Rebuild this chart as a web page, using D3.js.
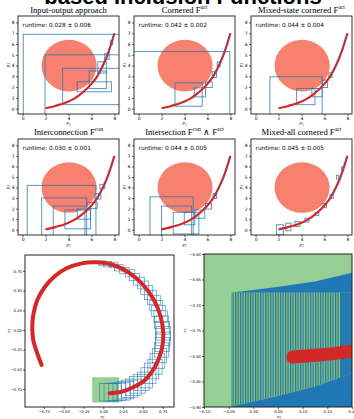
<!DOCTYPE html>
<html>
<head>
<meta charset="utf-8">
<script src="https://cdn.jsdelivr.net/npm/d3@7"></script>
<style>
  body { margin: 0; background: #fff; }
  svg { display: block; }
</style>
</head>
<body>
<svg id="fig" width="354" height="419"></svg>
<script>
// ---- data ----
var panelTitles = [
  ["Input-output approach"],
  ["Cornered F", "act"],
  ["Mixed-state cornered F", "act"],
  ["Interconnection F", "con"],
  ["Intersection F", "con", " \u2227 F", "act"],
  ["Mixed-all cornered F", "act"]
];
var runtimes = ["0.028 \u00b1 0.006", "0.042 \u00b1 0.002", "0.044 \u00b1 0.004",
                "0.030 \u00b1 0.001", "0.044 \u00b1 0.005", "0.045 \u00b1 0.005"];

// trajectory in the small panels
var curveP1 = [2, 2.5, 3, 3.5, 4, 4.5, 5, 5.5, 6, 6.5, 7, 7.5, 8];
var curveP2 = [0.03, 0.15, 0.3, 0.45, 0.65, 0.93, 1.3, 1.75, 2.3, 3.0, 4.0, 5.3, 7.0];
var obstacle = {cx: 4.05, cy: 4.0, r: 2.4};

// boxes [x0, x1, y0, y1]
var boxesIO = [[0.06, 9, -1, 6.9], [1.95, 9, -1, 5.0], [3.49, 9, 0.37, 3.74], [4.76, 7.74, 1.56, 2.49],
               [5.8, 7.3, 1.87, 3.49], [6.55, 7.3, 3.3, 4.35], [7.16, 7.54, 4.58, 5.14], [7.65, 7.85, 5.9, 6.3]];
var boxesCorner = [[-1, 7.95, -1, 5.3], [3.17, 5.54, 0.22, 2.4], [4.85, 5.83, 1.09, 1.93],
                   [5.83, 6.41, 1.96, 2.49], [6.41, 6.79, 2.9, 3.43], [6.85, 7.1, 3.9, 4.35]];
var boxesMixedState = [[1.25, 5.8, -1, 2.96], [3.57, 5.17, 0.37, 1.87], [4.9, 5.8, 1.1, 1.87],
                       [5.8, 6.27, 1.96, 2.65], [6.38, 6.67, 2.9, 3.33]];
var boxesInter = [[0.41, 6.39, -1, 4.2], [1.66, 5.58, -1, 3.02], [2.67, 5.43, -1, 2.24], [3.69, 5.92, 0.09, 1.87],
                  [4.76, 5.92, 1.0, 1.96], [5.62, 6.5, 2.02, 2.59], [6.3, 6.82, 2.9, 3.43], [6.73, 7.16, 3.89, 4.27]];
var boxesInters = [[0.99, 4.76, -1, 3.12], [2.0, 4.62, -1, 2.24], [3.02, 5.25, -0.4, 1.65], [3.98, 4.9, 0.47, 1.65],
                   [4.9, 5.77, 1.09, 1.87], [5.83, 6.35, 1.96, 2.49], [6.5, 6.79, 2.96, 3.43]];
var boxesMixedAll = [[1.83, 2.41, -0.47, 0.47], [2.62, 3.08, -0.1, 0.62], [3.42, 3.86, 0.31, 0.78],
                     [4.29, 4.64, 0.72, 1.09], [5.17, 5.51, 1.34, 1.65], [5.89, 6.17, 2.09, 2.49],
                     [6.47, 6.76, 2.96, 3.33], [7.05, 7.25, 4.8, 5.17], [7.5, 7.65, 5.6, 5.95]];
var panelBoxes = [boxesIO, boxesCorner, boxesMixedState, boxesInter, boxesInters, boxesMixedAll];

var smallXTicks = [0, 2, 4, 6, 8];
var smallYTicks = [0, 1, 2, 3, 4, 5, 6, 7, 8];

// spiral (bottom panels)
var spiralX = [-0.777, -0.832, -0.883, -0.895, -0.883, -0.832, -0.735, -0.609, -0.462, -0.272, -0.083,
               0.126, 0.337, 0.504, 0.639, 0.724, 0.757, 0.736, 0.652, 0.526, 0.378, 0.232, 0.08];
var spiralY = [-0.445, -0.296, -0.127, 0.021, 0.19, 0.381, 0.55, 0.686, 0.784, 0.847, 0.86,
               0.826, 0.72, 0.572, 0.381, 0.169, -0.042, -0.254, -0.466, -0.635, -0.728, -0.784, -0.802];
var tubeX = [0.065, 0.12, 0.175, 0.232, 0.28, 0.33, 0.378, 0.43, 0.478, 0.526, 0.57, 0.61, 0.652, 0.68, 0.708,
             0.736, 0.745, 0.752, 0.757, 0.746, 0.735, 0.724, 0.696, 0.667, 0.639, 0.594, 0.549, 0.504, 0.448,
             0.392, 0.337, 0.267, 0.196, 0.126, 0.056, -0.013];
var tubeY = [-0.79, -0.79, -0.787, -0.78, -0.765, -0.747, -0.728, -0.697, -0.667, -0.635, -0.58, -0.52, -0.466,
             -0.395, -0.325, -0.254, -0.183, -0.112, -0.042, 0.028, 0.099, 0.169, 0.24, 0.31, 0.381, 0.445,
             0.508, 0.572, 0.621, 0.671, 0.72, 0.755, 0.79, 0.826, 0.837, 0.849];
var tubeHx = [0.11, 0.11, 0.11, 0.11, 0.105, 0.105, 0.1, 0.1, 0.1, 0.095, 0.095, 0.09, 0.09, 0.09, 0.09, 0.09,
              0.09, 0.09, 0.09, 0.09, 0.09, 0.085, 0.085, 0.08, 0.08, 0.075, 0.075, 0.07, 0.07, 0.065, 0.06,
              0.06, 0.055, 0.05, 0.05, 0.045];
var tubeHy = [0.112, 0.112, 0.112, 0.11, 0.11, 0.11, 0.105, 0.105, 0.1, 0.1, 0.1, 0.1, 0.095, 0.095, 0.09, 0.09,
              0.09, 0.085, 0.085, 0.08, 0.08, 0.075, 0.07, 0.065, 0.06, 0.06, 0.055, 0.05, 0.05, 0.045, 0.045,
              0.04, 0.04, 0.035, 0.035, 0.03];
var initBox = [-0.14, 0.2, -0.92, -0.6];
var spiralTicks = [-0.75, -0.5, -0.25, 0, 0.25, 0.5, 0.75];

// zoomed view near the initial set
var zoomXTicks = [-0.1, -0.05, 0, 0.05, 0.1, 0.15, 0.2];
var zoomYTicks = [-0.9, -0.85, -0.8, -0.75, -0.7, -0.65, -0.6];
var edgeX = [-0.045, 0.044, 0.125, 0.2];
var upperEdgeY = [-0.676, -0.665, -0.654, -0.637];
var lowerEdgeY = [-0.899, -0.88, -0.86, -0.834];
var bandTop = -0.676;
var stripeEnd = 0.176;

// ---- drawing ----
var svg = d3.select("#fig");
var defs = svg.append("defs");
var BLUE = "#1f77b4", RED = "#d62728";
var sans = "DejaVu Sans", serif = "Liberation Serif";

var pat = defs.append("pattern").attr("id", "stripes").attr("patternUnits", "userSpaceOnUse")
  .attr("width", 2.5).attr("height", 4);
pat.append("rect").attr("width", 2.5).attr("height", 4).attr("fill", "#8fc66c");
pat.append("rect").attr("width", 1.25).attr("height", 4).attr("fill", BLUE);

// cut-off figure title
svg.append("text").attr("x", 183).attr("y", 4).attr("text-anchor", "middle")
  .attr("font-family", "Liberation Sans").attr("font-weight", "bold").attr("font-size", 22)
  .text("based Inclusion Functions");

function clip(id, x0, y0, w, h) {
  defs.append("clipPath").attr("id", id).append("rect")
    .attr("x", x0).attr("y", y0).attr("width", w).attr("height", h);
  return "url(#" + id + ")";
}

function styleAxis(g, fs) {
  g.select(".domain").remove();
  g.attr("font-size", fs).attr("font-family", sans);
  g.selectAll("line").attr("stroke-width", 0.6);
}

function subLabel(g, x, y, base, sub, rotate, fs) {
  var t = g.append("text").attr("text-anchor", "middle").attr("font-family", serif)
    .attr("font-style", "italic").attr("font-size", fs);
  if (rotate) t.attr("transform", "translate(" + x + "," + y + ") rotate(-90)");
  else t.attr("x", x).attr("y", y);
  t.append("tspan").text(base);
  t.append("tspan").attr("font-size", fs * 0.7).attr("font-style", "normal").attr("dy", fs * 0.25).text(sub);
}

var lefts = [18, 134, 251];
var rows = [{top: 16, h: 98, title: 12.5, xl: 124.3}, {top: 139, h: 96, title: 134.5, xl: 245.5}];
var curvePts = curveP1.map(function (p, i) { return [p, curveP2[i]]; });

panelBoxes.forEach(function (boxes, i) {
  var row = rows[Math.floor(i / 3)], left = lefts[i % 3], top = row.top, h = row.h, w = 101;
  var x = d3.scaleLinear().domain([-0.4, 8.4]).range([left, left + w]);
  var y = d3.scaleLinear().domain([-0.5, 8.6]).range([top + h, top]);
  var g = svg.append("g");
  var plot = g.append("g").attr("clip-path", clip("c" + i, left, top, w, h));

  plot.append("ellipse").attr("cx", x(obstacle.cx)).attr("cy", y(obstacle.cy))
    .attr("rx", x(obstacle.cx + obstacle.r) - x(obstacle.cx))
    .attr("ry", y(obstacle.cy) - y(obstacle.cy + obstacle.r))
    .attr("fill", "#f7806f");

  plot.selectAll("rect.box").data(boxes).join("rect").attr("class", "box")
    .attr("x", function (d) { return x(d[0]); }).attr("y", function (d) { return y(d[3]); })
    .attr("width", function (d) { return x(d[1]) - x(d[0]); })
    .attr("height", function (d) { return y(d[2]) - y(d[3]); })
    .attr("fill", "none").attr("stroke", BLUE).attr("stroke-width", 1).attr("opacity", 0.75);

  var line = d3.line().x(function (d) { return x(d[0]); }).y(function (d) { return y(d[1]); })
    .curve(d3.curveMonotoneX);
  plot.append("path").attr("d", line(curvePts)).attr("fill", "none")
    .attr("stroke", RED).attr("stroke-width", 2.2);
  plot.append("path").attr("d", line(curvePts.filter(function (d) { return d[0] >= 6.5; })))
    .attr("fill", "none").attr("stroke", BLUE).attr("stroke-width", 1.2)
    .attr("stroke-dasharray", "2,2.5").attr("opacity", 0.8);

  g.append("text").attr("x", left + 4.5).attr("y", top + 10.5).attr("font-family", sans)
    .attr("font-size", 5.8).text("runtime: " + runtimes[i]);

  g.append("rect").attr("x", left).attr("y", top).attr("width", w).attr("height", h)
    .attr("fill", "none").attr("stroke", "#000").attr("stroke-width", 0.8);

  var ax = g.append("g").attr("transform", "translate(0," + (top + h) + ")")
    .call(d3.axisBottom(x).tickValues(smallXTicks).tickSize(2).tickPadding(1));
  styleAxis(ax, 4.5);
  var ay = g.append("g").attr("transform", "translate(" + left + ",0)")
    .call(d3.axisLeft(y).tickValues(smallYTicks).tickSize(2).tickPadding(1.5));
  styleAxis(ay, 4.5);

  var tt = g.append("text").attr("x", left + w / 2).attr("y", row.title).attr("text-anchor", "middle")
    .attr("font-family", serif).attr("font-size", 8.6);
  panelTitles[i].forEach(function (part, k) {
    var sp = tt.append("tspan").text(part);
    if (k % 2 === 1) sp.attr("font-size", 5.8).attr("dy", -3.1);
    else if (k > 0) sp.attr("dy", 3.1);
  });

  subLabel(g, left + w / 2, row.xl, "p", "1", false, 5);
  subLabel(g, left - 9.5, top + h / 2, "p", "2", true, 5);
});

// ---- bottom left: spiral with reachable boxes ----
(function () {
  var L = 25, T = 255, W = 149, H = 152;
  var x = d3.scaleLinear().domain([-0.987, 0.892]).range([L, L + W]);
  var y = d3.scaleLinear().domain([-0.978, 0.953]).range([T + H, T]);
  var g = svg.append("g");
  var plot = g.append("g").attr("clip-path", clip("cs", L, T, W, H));

  plot.append("rect").attr("x", x(initBox[0])).attr("y", y(initBox[3]))
    .attr("width", x(initBox[1]) - x(initBox[0])).attr("height", y(initBox[2]) - y(initBox[3]))
    .attr("fill", "#2ca02c").attr("opacity", 0.5);

  var tube = tubeX.map(function (cx, i) { return [cx, tubeY[i], tubeHx[i], tubeHy[i]]; });
  plot.selectAll("rect.tb").data(tube).join("rect").attr("class", "tb")
    .attr("x", function (d) { return x(d[0] - d[2]); }).attr("y", function (d) { return y(d[1] + d[3]); })
    .attr("width", function (d) { return x(d[0] + d[2]) - x(d[0] - d[2]); })
    .attr("height", function (d) { return y(d[1] - d[3]) - y(d[1] + d[3]); })
    .attr("fill", "none").attr("stroke", BLUE).attr("stroke-width", 0.7).attr("opacity", 0.8);

  var pts = spiralX.map(function (v, i) { return [v, spiralY[i]]; });
  var line = d3.line().x(function (d) { return x(d[0]); }).y(function (d) { return y(d[1]); })
    .curve(d3.curveCatmullRom);
  plot.append("path").attr("d", line(pts)).attr("fill", "none").attr("stroke", RED)
    .attr("stroke-width", 4).attr("stroke-linecap", "round");

  g.append("rect").attr("x", L).attr("y", T).attr("width", W).attr("height", H)
    .attr("fill", "none").attr("stroke", "#222").attr("stroke-width", 1);
  var fmt = d3.format(".2f");
  var ax = g.append("g").attr("transform", "translate(0," + (T + H) + ")")
    .call(d3.axisBottom(x).tickValues(spiralTicks).tickFormat(fmt).tickSize(2).tickPadding(1));
  styleAxis(ax, 3.8);
  var ay = g.append("g").attr("transform", "translate(" + L + ",0)")
    .call(d3.axisLeft(y).tickValues(spiralTicks).tickFormat(fmt).tickSize(2).tickPadding(1));
  styleAxis(ay, 3.8);
  subLabel(g, L + W / 2 + 3, 418, "x", "1", false, 5);
  subLabel(g, 10, T + H / 2, "x", "2", true, 5);
})();

// ---- bottom right: zoom on the initial set ----
(function () {
  var L = 204, T = 254, W = 148, H = 153;
  var x = d3.scaleLinear().domain([-0.1, 0.2]).range([L, L + W]);
  var y = d3.scaleLinear().domain([-0.9, -0.6]).range([T + H, T]);
  var g = svg.append("g");
  var plot = g.append("g").attr("clip-path", clip("cz", L, T, W, H));

  plot.append("rect").attr("x", x(initBox[0])).attr("y", y(initBox[3]))
    .attr("width", x(initBox[1]) - x(initBox[0])).attr("height", y(initBox[2]) - y(initBox[3]))
    .attr("fill", "#2ca02c").attr("opacity", 0.5);

  var n = edgeX.length;
  var upper = edgeX.map(function (v, i) { return [x(v), y(upperEdgeY[i])]; });
  var lower = edgeX.map(function (v, i) { return [x(v), y(lowerEdgeY[i])]; });
  var poly = d3.line().curve(d3.curveLinear);
  // solid band above the horizontal top edge
  plot.append("path").attr("fill", BLUE)
    .attr("d", poly(upper.concat([[x(edgeX[n - 1]), y(bandTop)]])) + "Z");
  // striped body of the boxes
  plot.append("path").attr("fill", "url(#stripes)")
    .attr("d", poly([[x(edgeX[0]), y(bandTop)], [x(edgeX[n - 1]), y(bandTop)]].concat(lower.slice().reverse())) + "Z");
  // dense right edges
  var lowAtEnd = d3.scaleLinear().domain(edgeX).range(lowerEdgeY);
  plot.append("path").attr("fill", BLUE).attr("opacity", 0.9)
    .attr("d", poly([[x(stripeEnd), y(bandTop)], [x(edgeX[n - 1]), y(bandTop)],
                     [x(edgeX[n - 1]), y(lowerEdgeY[n - 1])], [x(stripeEnd), y(lowAtEnd(stripeEnd))]]) + "Z");
  // solid band below the lower edge
  plot.append("path").attr("fill", BLUE)
    .attr("d", poly(lower.concat([[x(edgeX[n - 1]), T + H], [x(edgeX[0]), T + H]])) + "Z");

  var pts = spiralX.map(function (v, i) { return [v, spiralY[i]]; });
  var line = d3.line().x(function (d) { return x(d[0]); }).y(function (d) { return y(d[1]); })
    .curve(d3.curveCatmullRom);
  plot.append("path").attr("d", line(pts)).attr("fill", "none").attr("stroke", RED)
    .attr("stroke-width", 13).attr("stroke-linecap", "round");

  g.append("rect").attr("x", L).attr("y", T).attr("width", W).attr("height", H)
    .attr("fill", "none").attr("stroke", "#222").attr("stroke-width", 1);
  var fmt = d3.format(".2f");
  var ax = g.append("g").attr("transform", "translate(0," + (T + H) + ")")
    .call(d3.axisBottom(x).tickValues(zoomXTicks).tickFormat(fmt).tickSize(2).tickPadding(1));
  styleAxis(ax, 3.8);
  var ay = g.append("g").attr("transform", "translate(" + L + ",0)")
    .call(d3.axisLeft(y).tickValues(zoomYTicks).tickFormat(fmt).tickSize(2).tickPadding(1));
  styleAxis(ay, 3.8);
  subLabel(g, L + W / 2 + 1, 418, "x", "1", false, 5);
  subLabel(g, 186, T + H / 2, "x", "2", true, 5);
})();
</script>
</body>
</html>
